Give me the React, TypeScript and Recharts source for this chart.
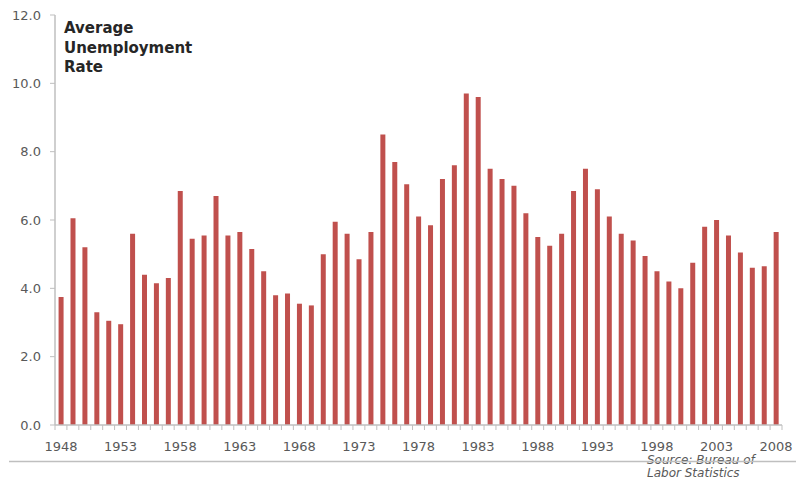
import { BarChart, Bar, XAxis, YAxis } from "recharts";

// Annual average unemployment rate, 1948–2008
const years = [
  "1948", "1949", "1950", "1951", "1952", "1953", "1954", "1955", "1956", "1957",
  "1958", "1959", "1960", "1961", "1962", "1963", "1964", "1965", "1966", "1967",
  "1968", "1969", "1970", "1971", "1972", "1973", "1974", "1975", "1976", "1977",
  "1978", "1979", "1980", "1981", "1982", "1983", "1984", "1985", "1986", "1987",
  "1988", "1989", "1990", "1991", "1992", "1993", "1994", "1995", "1996", "1997",
  "1998", "1999", "2000", "2001", "2002", "2003", "2004", "2005", "2006", "2007",
  "2008",
];

const rates = [
  3.75, 6.05, 5.2, 3.3, 3.05, 2.95, 5.6, 4.4, 4.15, 4.3,
  6.85, 5.45, 5.55, 6.7, 5.55, 5.65, 5.15, 4.5, 3.8, 3.85,
  3.55, 3.5, 5.0, 5.95, 5.6, 4.85, 5.65, 8.5, 7.7, 7.05,
  6.1, 5.85, 7.2, 7.6, 9.7, 9.6, 7.5, 7.2, 7.0, 6.2,
  5.5, 5.25, 5.6, 6.85, 7.5, 6.9, 6.1, 5.6, 5.4, 4.95,
  4.5, 4.2, 4.0, 4.75, 5.8, 6.0, 5.55, 5.05, 4.6, 4.65,
  5.65,
];

const yTicks = [0, 2, 4, 6, 8, 10, 12];
const titleLines = ["Average", "Unemployment", "Rate"];
const sourceLines = ["Source: Bureau of", "Labor Statistics"];

const data = years.map((year, i) => ({ year, rate: rates[i] }));

const W = 796;
const H = 478;
const PLOT_LEFT = 55;
const PLOT_RIGHT = 782;
const HALF_BAND = (PLOT_RIGHT - PLOT_LEFT) / years.length / 2;
const AXIS_GRAY = "#bfbfbf";
const TEXT_GRAY = "#595959";
const FONT = "'DejaVu Sans', sans-serif";

// Tick marks sit between categories; a label every fifth year
function YearTick(props: any) {
  const { x, y, index } = props;
  const last = index === years.length - 1;
  return (
    <g>
      <line x1={x - HALF_BAND} x2={x - HALF_BAND} y1={y} y2={y + 5} stroke={AXIS_GRAY} />
      {last && (
        <line x1={x + HALF_BAND} x2={x + HALF_BAND} y1={y} y2={y + 5} stroke={AXIS_GRAY} />
      )}
      {index % 5 === 0 && (
        <text x={x} y={y + 26} textAnchor="middle" fontSize={13} fill={TEXT_GRAY} fontFamily={FONT}>
          {years[index]}
        </text>
      )}
    </g>
  );
}

export default function App() {
  return (
    <div style={{ position: "absolute", left: 0, top: 0, width: W, height: H, background: "#fff", overflow: "hidden" }}>
      <BarChart
        width={W}
        height={H}
        data={data}
        margin={{ top: 15, right: W - PLOT_RIGHT, bottom: 13, left: 0 }}
        barCategoryGap="30%"
      >
        <XAxis
          dataKey="year"
          interval={0}
          height={40}
          tickSize={0}
          tickMargin={0}
          tickLine={false}
          axisLine={{ stroke: AXIS_GRAY, strokeWidth: 1.5 }}
          tick={<YearTick />}
        />
        <YAxis
          width={PLOT_LEFT}
          domain={[0, 12]}
          ticks={yTicks}
          interval={0}
          tickFormatter={(v: number) => v.toFixed(1)}
          tickSize={5}
          tickMargin={9}
          axisLine={{ stroke: AXIS_GRAY, strokeWidth: 1.5 }}
          tickLine={{ stroke: AXIS_GRAY }}
          tick={{ fontSize: 13, fill: TEXT_GRAY, fontFamily: FONT }}
        />
        <Bar dataKey="rate" fill="#c0504d" isAnimationActive={false} />
      </BarChart>
      <svg
        width={W}
        height={H}
        style={{ position: "absolute", left: 0, top: 0, pointerEvents: "none" }}
      >
        {titleLines.map((t, i) => (
          <text key={t} x={64} y={33 + i * 19.5} fontSize={15} fontWeight="bold" fill="#262626" fontFamily={FONT}>
            {t}
          </text>
        ))}
        {sourceLines.map((t, i) => (
          <text key={t} x={647} y={464 + i * 12.5} fontSize={12} fontStyle="italic" fill={TEXT_GRAY} fontFamily={FONT}>
            {t}
          </text>
        ))}
        <line x1={9} x2={W} y1={461.5} y2={461.5} stroke={AXIS_GRAY} strokeWidth={1.5} />
      </svg>
    </div>
  );
}
